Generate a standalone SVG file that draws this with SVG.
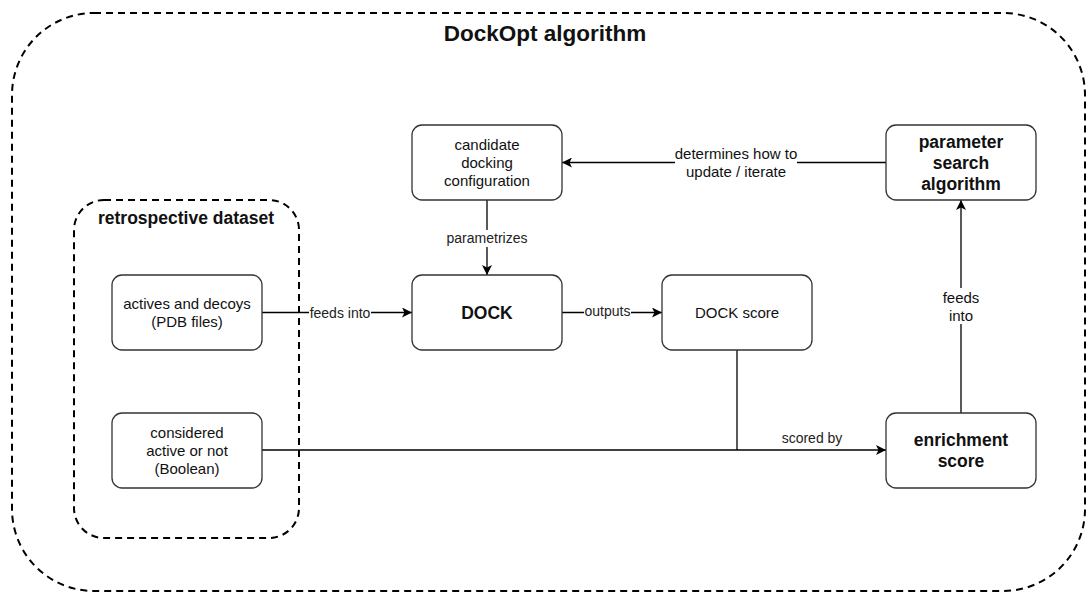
<svg xmlns="http://www.w3.org/2000/svg" width="1090" height="600" viewBox="0 0 1090 600">
<defs>
<marker id="arr" markerWidth="12" markerHeight="10" refX="10" refY="5" orient="auto" markerUnits="userSpaceOnUse">
<path d="M0,0 L10,5 L0,10 L2.5,5 Z" fill="#000"/>
</marker>
<style>
.box{fill:#fff;stroke:#333;stroke-width:1.3}
.grp{fill:none;stroke:#000;stroke-width:2;stroke-dasharray:7 5}
.t{font-family:"Liberation Sans",Arial,sans-serif;font-size:15px;fill:#111;text-anchor:middle;dominant-baseline:central}
.b{font-family:"Liberation Sans",Arial,sans-serif;font-size:17.5px;font-weight:bold;fill:#111;text-anchor:middle;dominant-baseline:central}
.l{font-family:"Liberation Sans",Arial,sans-serif;font-size:14px;fill:#222;text-anchor:middle;dominant-baseline:central}
.lb{fill:#fff}
.c{fill:none;stroke:#000;stroke-width:1.3}
</style>
</defs>
<rect width="1090" height="600" fill="#fff"/>
<g id="dockopt-algorithm">
<rect class="grp" x="12" y="13" width="1073" height="578" rx="82" ry="82"/>
<text class="b" x="545" y="33" style="font-size:22.5px">DockOpt algorithm</text>
</g>
<g id="retrospective-dataset">
<rect class="grp" x="74" y="200" width="225" height="338" rx="30" ry="30"/>
<text class="b" x="186" y="218">retrospective dataset</text>
</g>
<g id="connectors">
<line class="c" x1="262" y1="312.5" x2="412" y2="312.5" marker-end="url(#arr)"/>
<rect class="lb" x="309" y="304" width="62" height="17"/>
<text class="l" x="340" y="312.5">feeds into</text>
<line class="c" x1="487" y1="200" x2="487" y2="275" marker-end="url(#arr)"/>
<rect class="lb" x="446" y="230" width="82" height="17"/>
<text class="l" x="487" y="238">parametrizes</text>
<line class="c" x1="562" y1="312.5" x2="662" y2="312.5" marker-end="url(#arr)"/>
<rect class="lb" x="584" y="304" width="47" height="17"/>
<text class="l" x="607.5" y="311">outputs</text>
<line class="c" x1="886" y1="162.5" x2="562" y2="162.5" marker-end="url(#arr)"/>
<rect class="lb" x="675" y="144" width="122" height="36"/>
<text class="t" x="736" y="153">determines how to</text>
<text class="t" x="736" y="171">update / iterate</text>
<line class="c" x1="262" y1="450" x2="886" y2="450" marker-end="url(#arr)"/>
<line class="c" x1="737" y1="350" x2="737" y2="450"/>
<text class="l" x="812" y="438">scored by</text>
<line class="c" x1="961" y1="413" x2="961" y2="200" marker-end="url(#arr)"/>
<rect class="lb" x="942" y="288" width="38" height="36"/>
<text class="t" x="961" y="297">feeds</text>
<text class="t" x="961" y="315">into</text>
</g>
<g id="actives-and-decoys">
<rect class="box" x="112" y="275" width="150" height="75" rx="10" ry="10"/>
<text class="t" x="187" y="303.5">actives and decoys</text>
<text class="t" x="187" y="321.5">(PDB files)</text>
</g>
<g id="considered-active">
<rect class="box" x="112" y="413" width="150" height="75" rx="10" ry="10"/>
<text class="t" x="187" y="432.5">considered</text>
<text class="t" x="187" y="450.5">active or not</text>
<text class="t" x="187" y="468.5">(Boolean)</text>
</g>
<g id="candidate-docking-configuration">
<rect class="box" x="412" y="125" width="150" height="75" rx="10" ry="10"/>
<text class="t" x="487" y="144.5">candidate</text>
<text class="t" x="487" y="162.5">docking</text>
<text class="t" x="487" y="180.5">configuration</text>
</g>
<g id="dock">
<rect class="box" x="412" y="275" width="150" height="75" rx="10" ry="10"/>
<text class="b" x="487" y="312.5">DOCK</text>
</g>
<g id="dock-score">
<rect class="box" x="662" y="275" width="150" height="75" rx="10" ry="10"/>
<text class="t" x="737" y="312.5">DOCK score</text>
</g>
<g id="parameter-search-algorithm">
<rect class="box" x="886" y="125" width="150" height="75" rx="10" ry="10"/>
<text class="b" x="961" y="141.5">parameter</text>
<text class="b" x="961" y="162.5">search</text>
<text class="b" x="961" y="183.5">algorithm</text>
</g>
<g id="enrichment-score">
<rect class="box" x="886" y="413" width="150" height="75" rx="10" ry="10"/>
<text class="b" x="961" y="440">enrichment</text>
<text class="b" x="961" y="461">score</text>
</g>
</svg>
